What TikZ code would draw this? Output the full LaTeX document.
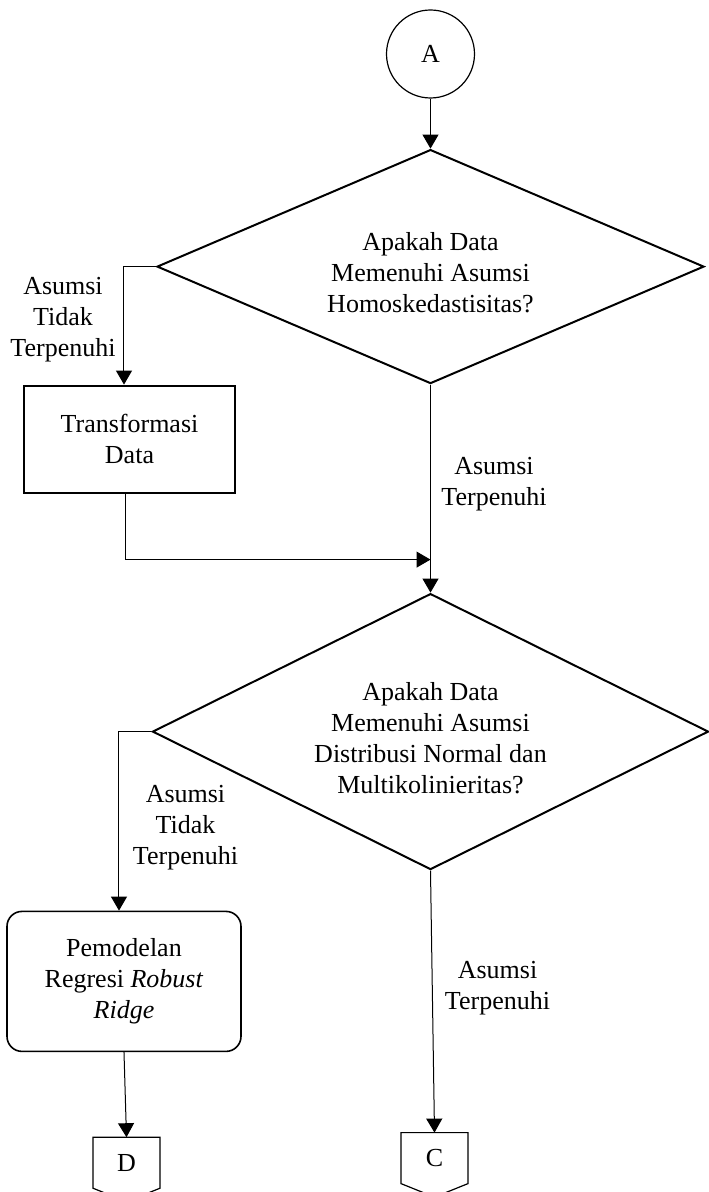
\documentclass[tikz,border=0pt]{standalone}
\usepackage{fontspec}
\setmainfont{Liberation Serif}
\usepackage{tikz}
\usetikzlibrary{shapes.geometric, arrows.meta, positioning}
\tikzstyle{arrow} = [line width=0.5pt,-{Triangle[width=8pt,length=7pt]}]
\tikzstyle{line} = [line width=0.6pt]
\tikzstyle{process} = [rectangle, minimum width=105.5pt, minimum height=53.5pt, text centered, align=center, draw=black, line width=1pt]
\tikzstyle{decision} = [diamond, minimum width=273.5pt, minimum height=117pt, inner sep=0pt, draw=black, line width=1pt]
\tikzstyle{startstop} = [circle, minimum size=44pt, inner sep=0pt, draw=black, line width=0.6pt]
\tikzstyle{offpage} = [rectangle, minimum width=33.5pt, minimum height=25.5pt, inner sep=0pt, outer sep=0pt]
\tikzstyle{note} = [align=center, inner sep=0pt]

\begin{document}
\begin{tikzpicture}[node distance=0.7cm, font={\fontsize{13}{15.5}\selectfont}]
    \useasboundingbox (-215.25pt,27pt) rectangle (138.75pt,-569pt);

    % Konektor awal
    \node (A) [startstop] {A};

    % Uji homoskedastisitas
    \node (cek1) [decision, below=25pt of A] {};
    \node (cek1txt) [note] at ([yshift=-3pt]cek1.center) {Apakah Data\\Memenuhi Asumsi\\Homoskedastisitas?};
    \node (tidak1) [note] at ([xshift=-46.5pt,yshift=-26.5pt]cek1.west) {Asumsi\\Tidak\\Terpenuhi};
    \node (trans) [process, anchor=north] at ([xshift=-13.25pt,yshift=-59pt]cek1.west) {Transformasi\\Data};
    \node (ya1) [note] at ([xshift=31.75pt,yshift=-50pt]cek1.south) {Asumsi\\Terpenuhi};
    \coordinate (gabung) at ([yshift=-87.5pt]cek1.south);

    % Uji normalitas dan multikolinieritas
    \node (cek2) [decision, minimum width=278pt, minimum height=138pt, below=104pt of cek1] {};
    \node (cek2txt) [note] at ([yshift=-3.5pt]cek2.center) {Apakah Data\\Memenuhi Asumsi\\Distribusi Normal dan\\Multikolinieritas?};
    \node (tidak2) [note] at ([xshift=17pt,yshift=-48pt]cek2.west) {Asumsi\\Tidak\\Terpenuhi};
    \node (robust) [process, rounded corners=7.5pt, minimum width=117pt, minimum height=70pt, line width=0.8pt, below=208.5pt of trans, xshift=-2.75pt] {Pemodelan\\Regresi \textit{Robust}\\\textit{Ridge}};
    \node (ya2) [note] at ([xshift=33.5pt,yshift=-59pt]cek2.south) {Asumsi\\Terpenuhi};

    % Konektor halaman
    \node (D) [offpage, below=42.5pt of robust, xshift=1.25pt] {D};
    \node (C) [offpage, below=131pt of cek2, xshift=2pt] {C};
    \foreach \n in {D,C}
        \draw [line] (\n.north west) -- (\n.north east) -- (\n.south east) -- ([yshift=-6.75pt]\n.south) -- (\n.south west) -- cycle;

    % Flechas
    \draw [arrow] (A) -- (cek1);
    \draw [arrow] (cek1.west) -| ([xshift=-2.75pt]trans.north);
    \draw [arrow] ([xshift=-1.75pt]trans.south) |- (gabung);
    \draw [arrow] (cek1.south) -- (cek2.north);
    \draw [arrow] (cek2.west) -| ([xshift=-2.5pt]robust.north);
    \draw [arrow] (robust.south) -- (D.north);
    \draw [arrow] (cek2.south) -- (C.north);
\end{tikzpicture}
\end{document}
